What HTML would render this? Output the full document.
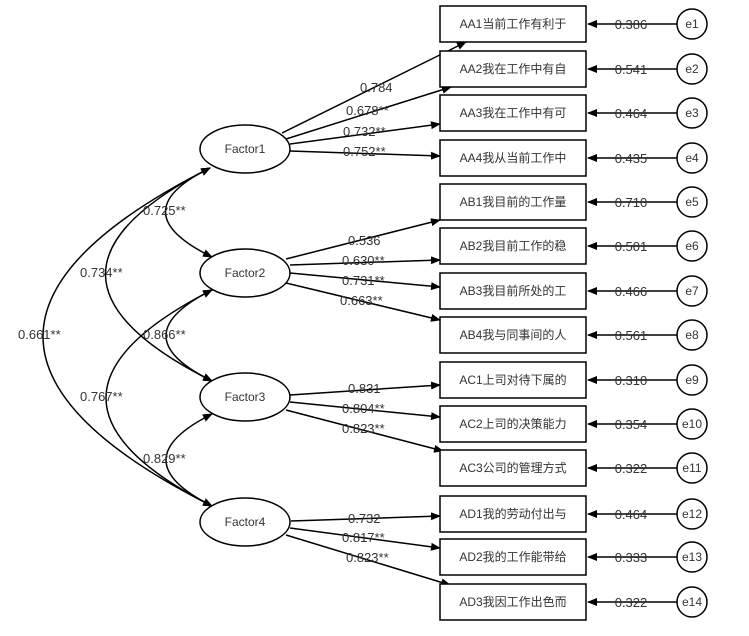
<!DOCTYPE html>
<html><head><meta charset="utf-8"><style>
html,body{margin:0;padding:0;background:#fff;}
svg text{font-family:"Liberation Sans","Noto Sans CJK SC",sans-serif;fill:#333;}
</style></head><body>
<svg width="749" height="631" viewBox="0 0 749 631" xmlns="http://www.w3.org/2000/svg">
<defs><marker id="a" markerWidth="10" markerHeight="8" refX="9" refY="4" orient="auto-start-reverse" markerUnits="userSpaceOnUse"><path d="M0,0 L10,4 L0,8 z" fill="#000"/></marker></defs>
<g stroke="#000" stroke-width="1.5" fill="none" marker-end="url(#a)" marker-start="url(#a)">
<path d="M210,168 Q120,212 212,257"/>
<path d="M210,168 Q0,275 212,381"/>
<path d="M210,168 Q-125,337 212,506"/>
<path d="M212,290 Q120,336 212,381"/>
<path d="M212,290 Q0,398 212,506"/>
<path d="M212,414 Q120,460 212,506"/>
</g>
<g stroke="#000" stroke-width="1.5" fill="none" marker-end="url(#a)">
<line x1="282" y1="133" x2="466" y2="42"/>
<line x1="286" y1="139" x2="451" y2="87"/>
<line x1="290" y1="144" x2="440" y2="124"/>
<line x1="290" y1="151" x2="440" y2="156"/>
<line x1="286" y1="259" x2="440" y2="220"/>
<line x1="290" y1="265" x2="440" y2="260"/>
<line x1="290" y1="273" x2="440" y2="287"/>
<line x1="286" y1="283" x2="440" y2="320"/>
<line x1="290" y1="395" x2="440" y2="385"/>
<line x1="290" y1="402" x2="440" y2="417"/>
<line x1="286" y1="410" x2="443" y2="451"/>
<line x1="291" y1="521" x2="440" y2="516"/>
<line x1="290" y1="528" x2="440" y2="548"/>
<line x1="286" y1="535" x2="450" y2="585"/>
</g>
<g stroke="#000" stroke-width="1.5" fill="#fff">
<ellipse cx="245" cy="149" rx="45" ry="24"/>
<ellipse cx="245" cy="273" rx="45" ry="24"/>
<ellipse cx="245" cy="397" rx="45" ry="24"/>
<ellipse cx="245" cy="522" rx="45" ry="24"/>
</g>
<g font-size="12" text-anchor="middle">
<text x="245" y="153">Factor1</text><text x="245" y="277">Factor2</text>
<text x="245" y="401">Factor3</text><text x="245" y="526">Factor4</text>
</g>
<g font-size="13">
<text x="143" y="215">0.725**</text><text x="80" y="277">0.734**</text>
<text x="18" y="339">0.661**</text><text x="143" y="339">0.866**</text>
<text x="80" y="401">0.767**</text><text x="143" y="463">0.829**</text>
<text x="360" y="92">0.784</text><text x="346" y="115">0.678**</text>
<text x="343" y="136">0.732**</text><text x="343" y="156">0.752**</text>
<text x="348" y="245">0.536</text><text x="342" y="265">0.630**</text>
<text x="342" y="285">0.731**</text><text x="340" y="305">0.663**</text>
<text x="348" y="393">0.831</text><text x="342" y="413">0.804**</text>
<text x="342" y="433">0.823**</text>
<text x="348" y="523">0.732</text><text x="342" y="542">0.817**</text>
<text x="346" y="562">0.823**</text>
</g>
<g stroke="#000" stroke-width="1.5" fill="#fff">
<rect x="440" y="6" width="146" height="36"/><rect x="440" y="51" width="146" height="36"/>
<rect x="440" y="95" width="146" height="36"/><rect x="440" y="140" width="146" height="36"/>
<rect x="440" y="184" width="146" height="36"/><rect x="440" y="228" width="146" height="36"/>
<rect x="440" y="273" width="146" height="36"/><rect x="440" y="317" width="146" height="36"/>
<rect x="440" y="362" width="146" height="36"/><rect x="440" y="406" width="146" height="36"/>
<rect x="440" y="450" width="146" height="36"/><rect x="440" y="496" width="146" height="36"/>
<rect x="440" y="539" width="146" height="36"/><rect x="440" y="584" width="146" height="36"/>
</g>
<g stroke="#000" stroke-width="1.5" marker-end="url(#a)">
<line x1="677" y1="24" x2="588" y2="24"/><line x1="677" y1="69" x2="588" y2="69"/>
<line x1="677" y1="113" x2="588" y2="113"/><line x1="677" y1="158" x2="588" y2="158"/>
<line x1="677" y1="202" x2="588" y2="202"/><line x1="677" y1="246" x2="588" y2="246"/>
<line x1="677" y1="291" x2="588" y2="291"/><line x1="677" y1="335" x2="588" y2="335"/>
<line x1="677" y1="380" x2="588" y2="380"/><line x1="677" y1="424" x2="588" y2="424"/>
<line x1="677" y1="468" x2="588" y2="468"/><line x1="677" y1="514" x2="588" y2="514"/>
<line x1="677" y1="557" x2="588" y2="557"/><line x1="677" y1="602" x2="588" y2="602"/>
</g>
<g stroke="#000" stroke-width="1.5" fill="#fff">
<circle cx="692" cy="24" r="15"/><circle cx="692" cy="69" r="15"/><circle cx="692" cy="113" r="15"/>
<circle cx="692" cy="158" r="15"/><circle cx="692" cy="202" r="15"/><circle cx="692" cy="246" r="15"/>
<circle cx="692" cy="291" r="15"/><circle cx="692" cy="335" r="15"/><circle cx="692" cy="380" r="15"/>
<circle cx="692" cy="424" r="15"/><circle cx="692" cy="468" r="15"/><circle cx="692" cy="514" r="15"/>
<circle cx="692" cy="557" r="15"/><circle cx="692" cy="602" r="15"/>
</g>
<g font-size="12" text-anchor="middle">
<text x="513" y="28">AA1当前工作有利于</text><text x="513" y="73">AA2我在工作中有自</text>
<text x="513" y="117">AA3我在工作中有可</text><text x="513" y="162">AA4我从当前工作中</text>
<text x="513" y="206">AB1我目前的工作量</text><text x="513" y="250">AB2我目前工作的稳</text>
<text x="513" y="295">AB3我目前所处的工</text><text x="513" y="339">AB4我与同事间的人</text>
<text x="513" y="384">AC1上司对待下属的</text><text x="513" y="428">AC2上司的决策能力</text>
<text x="513" y="472">AC3公司的管理方式</text><text x="513" y="518">AD1我的劳动付出与</text>
<text x="513" y="561">AD2我的工作能带给</text><text x="513" y="606">AD3我因工作出色而</text>
<text x="692" y="28">e1</text><text x="692" y="73">e2</text><text x="692" y="117">e3</text>
<text x="692" y="162">e4</text><text x="692" y="206">e5</text><text x="692" y="250">e6</text>
<text x="692" y="295">e7</text><text x="692" y="339">e8</text><text x="692" y="384">e9</text>
<text x="692" y="428">e10</text><text x="692" y="472">e11</text><text x="692" y="518">e12</text>
<text x="692" y="561">e13</text><text x="692" y="606">e14</text>
</g>
<g font-size="13" text-anchor="middle">
<text x="631" y="29">0.386</text><text x="631" y="74">0.541</text><text x="631" y="118">0.464</text>
<text x="631" y="163">0.435</text><text x="631" y="207">0.710</text><text x="631" y="251">0.501</text>
<text x="631" y="296">0.466</text><text x="631" y="340">0.561</text><text x="631" y="385">0.310</text>
<text x="631" y="429">0.354</text><text x="631" y="473">0.322</text><text x="631" y="519">0.464</text>
<text x="631" y="562">0.333</text><text x="631" y="607">0.322</text>
</g>
</svg>
</body></html>
